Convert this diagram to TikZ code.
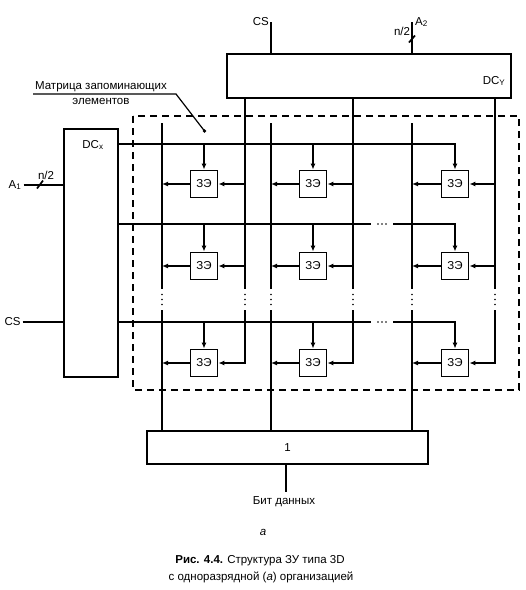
\documentclass[tikz,border=0pt]{standalone}
\usepackage{fontspec}
\setmainfont{Liberation Sans}
\usetikzlibrary{arrows.meta}
\begin{document}
\begin{tikzpicture}[x=1pt,y=-1pt,
  wire/.style={line width=1.7pt},
  blk/.style={draw, line width=1.8pt, inner sep=0pt},
  ze/.style={blk, minimum width=27pt, minimum height=27pt, font=\fontsize{11.5}{13}\selectfont},
  arr/.style={wire, -{Latex[length=6pt,width=5pt]}},
  txt/.style={font=\fontsize{11.5}{13.8}\selectfont, inner sep=1pt},
  gapv/.style={minimum width=3pt, minimum height=21pt, inner sep=0pt},
  gaph/.style={minimum width=22pt, minimum height=3pt, inner sep=0pt}
]
\useasboundingbox (0,0) rectangle (526,590);

% blocks
\node[blk, minimum width=54pt, minimum height=248pt] (dcx) at (91,253) {};
\node[blk, minimum width=284pt, minimum height=44pt] (dcy) at (369,76) {};
\node[blk, minimum width=281pt, minimum height=33pt, txt] (one) at (287.5,447.5) {1};
\node[txt] (dcxl) at (93,145) {DC\textsubscript{x}};
\node[txt] (dcyl) at (494,81) {DC\textsubscript{Y}};

% matrix frame
\draw[line width=1.5pt, dash pattern=on 7pt off 5pt] (133,116) rectangle (519,390);

% row coordinates
\coordinate (row1) at (0,144);
\coordinate (row2) at (0,224);
\coordinate (row3) at (0,322);
\coordinate (ltop) at (0,123);

% storage elements and column lines
\foreach \c/\L/\R/\Z in {1/162/245/204, 2/271/353/313, 3/412/495/455} {
  \node[gapv] (gl\c) at (\L,299.5) {};
  \node[gapv] (gr\c) at (\R,299.5) {};
  \node[ze] (z1\c) at (\Z,184) {ЗЭ};
  \node[ze] (z2\c) at (\Z,266) {ЗЭ};
  \node[ze] (z3\c) at (\Z,363) {ЗЭ};
  \fill (gl\c.center) circle (0.9pt);
  \fill ([yshift=5pt]gl\c.center) circle (0.9pt);
  \fill ([yshift=-5pt]gl\c.center) circle (0.9pt);
  \fill (gr\c.center) circle (0.9pt);
  \fill ([yshift=5pt]gr\c.center) circle (0.9pt);
  \fill ([yshift=-5pt]gr\c.center) circle (0.9pt);
  % bit (output) lines
  \draw[wire] (gl\c |- ltop) -- (gl\c.north);
  \draw[wire] (gl\c.south) -- (gl\c.south |- one.north);
  % select lines from DCy
  \draw[wire] (dcy.south -| gr\c) -- (gr\c.north);
  \draw[arr] (gr\c.south) -- (gr\c.south |- z3\c.east) -- (z3\c.east);
  \draw[arr] (z1\c.east -| gr\c) -- (z1\c.east);
  \draw[arr] (z2\c.east -| gr\c) -- (z2\c.east);
  % outputs of elements
  \draw[arr] (z1\c.west) -- (z1\c.west -| gl\c);
  \draw[arr] (z2\c.west) -- (z2\c.west -| gl\c);
  \draw[arr] (z3\c.west) -- (z3\c.west -| gl\c);
}

% row lines from DCx
\draw[arr] (dcx.east |- row1) -- (z13.north |- row1) -- (z13.north);
\draw[arr] (z11.north |- row1) -- (z11.north);
\draw[arr] (z12.north |- row1) -- (z12.north);

\node[gaph] (hd2) at (382,224) {};
\node[gaph] (hd3) at (382,322) {};
\foreach \h in {hd2,hd3} {
  \fill (\h.center) circle (0.9pt);
  \fill ([xshift=4pt]\h.center) circle (0.9pt);
  \fill ([xshift=-4pt]\h.center) circle (0.9pt);
}
\draw[wire] (dcx.east |- row2) -- (hd2.west);
\draw[arr] (hd2.east) -- (z23.north |- row2) -- (z23.north);
\draw[arr] (z21.north |- row2) -- (z21.north);
\draw[arr] (z22.north |- row2) -- (z22.north);

\draw[wire] (dcx.east |- row3) -- (hd3.west);
\draw[arr] (hd3.east) -- (z33.north |- row3) -- (z33.north);
\draw[arr] (z31.north |- row3) -- (z31.north);
\draw[arr] (z32.north |- row3) -- (z32.north);

% inputs of DCx
\node[txt, inner sep=2pt] (a1) at (15,185) {A\textsubscript{1}};
\draw[wire] (a1.east) -- (a1.east -| dcx.west);
\coordinate (a1tk) at (40,184.5);
\draw[wire] (a1tk) ++(-3,4) -- ++(6,-8);
\node[txt] (n1) at (46,175) {n/2};
\node[txt, inner sep=2pt] (csl) at (12.5,322) {CS};
\draw[wire] (csl.east) -- (csl.east -| dcx.west);

% inputs of DCy
\coordinate (cst) at (271,22);
\node[txt, anchor=east, inner sep=2pt] (cs) at (cst) {CS};
\draw[wire] (cst) -- (cst |- dcy.north);
\coordinate (a2t) at (412,22);
\node[txt, anchor=west, inner sep=3pt] (a2) at (a2t) {A\textsubscript{2}};
\draw[wire] (a2t) -- (a2t |- dcy.north);
\coordinate (a2tk) at (412,39);
\draw[wire] (a2tk) ++(-3,3.5) -- ++(6,-7);
\node[txt] (n2) at (402,31) {n/2};

% matrix label with pointer
\node[txt] (ml1) at (101,87) {Матрица запоминающих};
\node[txt] (ml2) at (101,101) {элементов};
\coordinate (mp0) at (33,94);
\coordinate (mp1) at (176,94);
\coordinate (mdot) at (204.5,131);
\draw[line width=1.2pt] (mp0) -- (mp1) -- (mdot);
\fill (mdot) circle (1.9pt);

% output
\node[txt] (bit) at (284,502) {Бит данных};
\draw[wire] (one.south -| 286,0) -- (286,492);

% caption
\node[txt] (sub) at (263,532) {\textit{а}};
\node[txt] (cap1) at (260,561) {\textbf{Рис. 4.4.} Структура ЗУ типа 3D};
\node[txt] (cap2) at (261,577) {с одноразрядной (\textit{а}) организацией};
\end{tikzpicture}
\end{document}
